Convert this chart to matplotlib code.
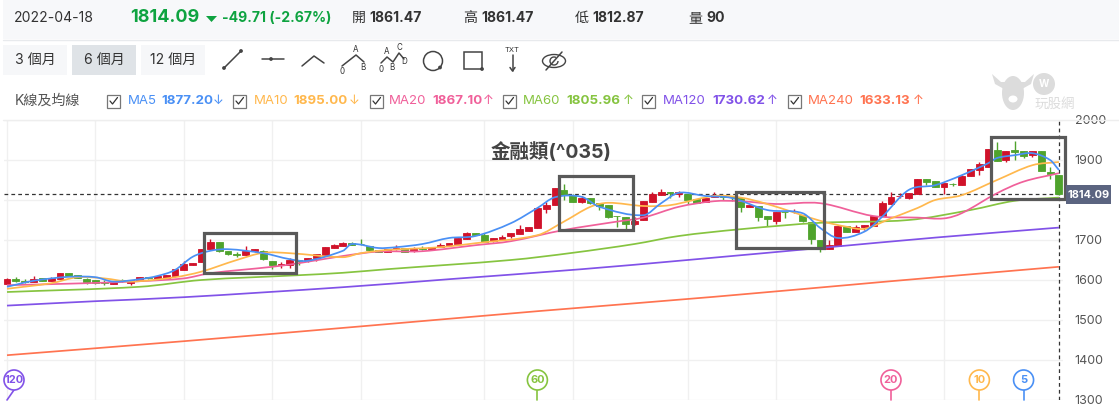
import matplotlib
matplotlib.use('Agg')
import matplotlib.pyplot as plt
from matplotlib.patches import Rectangle, Circle, Ellipse, Polygon, Arc, PathPatch
from matplotlib.path import Path

plt.rcParams['font.family'] = ['Inter', 'Noto Sans CJK TC', 'DejaVu Sans']

opens = [1590,1602,1597,1596,1604,1598,1603,1617,1612,1603,1599,1594,1591,1599,1592,1598,1607,1602,1602,1611,
         1626,1638,1644,1678,1694,1673,1666,1663,1672,1673,1647,1637,1637,1649,1649,1655,1663,1681,1686,1692,
         1691,1686,1675,1671,1677,1681,1672,1680,1678,1682,1687,1691,1703,1717,1712,1698,1702,1709,1716,1723,
         1731,1778,1787,1825,1812,1796,1804,1792,1787,1760,1757,1741,1749,1794,1812,1819,1815,1816,1802,1796,
         1807,1812,1811,1804,1783,1785,1760,1748,1770,1772,1763,1744,1699,1677,1686,1735,1721,1732,1736,1761,
         1791,1810,1804,1815,1852,1847,1833,1841,1837,1860,1875,1883,1925,1900,1924,1922,1913,1922,1869,1861.47]
highs = [1605,1607,1602,1610,1604,1607,1618,1618,1612,1604,1600,1600,1594,1602,1600,1607,1607,1609,1613,1627,
         1647,1643,1678,1702,1694,1673,1669,1685,1678,1675,1647,1644,1654,1649,1656,1664,1682,1690,1695,1695,
         1702,1686,1675,1677,1687,1681,1682,1685,1683,1692,1692,1704,1721,1717,1718,1705,1712,1717,1737,1732,
         1779,1794,1829,1840,1815,1810,1804,1792,1787,1761,1757,1757,1797,1820,1827,1819,1822,1816,1803,1804,
         1819,1812,1811,1804,1788,1785,1760,1771,1770,1778,1763,1744,1699,1700,1735,1735,1737,1737,1760,1797,
         1820,1818,1817,1852,1853,1848,1842,1842,1862,1877,1896,1927,1945,1922,1947,1923,1923,1923,1882,1861.47]
lows = [1590,1595,1592,1594,1597,1597,1603,1610,1606,1589,1590,1588,1590,1596,1587,1598,1602,1602,1602,1611,
        1626,1638,1644,1678,1671,1662,1658,1662,1671,1650,1628,1631,1630,1637,1644,1648,1663,1681,1686,1687,
        1688,1671,1670,1670,1676,1671,1671,1675,1678,1682,1687,1691,1703,1712,1696,1696,1700,1705,1716,1722,
        1731,1768,1787,1800,1794,1793,1790,1775,1755,1733,1727,1738,1749,1794,1812,1806,1808,1790,1793,1795,
        1807,1800,1797,1771,1783,1748,1735,1740,1756,1767,1745,1690,1671,1677,1686,1721,1721,1725,1736,1761,
        1791,1806,1803,1815,1837,1832,1814,1835,1837,1860,1862,1883,1898,1896,1900,1904,1908,1873,1852,1812.87]
closes = [1602,1597,1595,1603,1598,1604,1617,1611,1606,1595,1592,1593,1594,1598,1600,1607,1605,1609,1612,1627,
          1640,1642,1677,1694,1673,1666,1662,1672,1677,1652,1637,1641,1650,1647,1655,1664,1682,1688,1692,1687,
          1689,1675,1670,1677,1680,1671,1678,1678,1683,1688,1692,1704,1717,1712,1696,1705,1707,1717,1727,1732,
          1779,1787,1829,1813,1796,1806,1793,1786,1758,1759,1741,1747,1797,1814,1819,1817,1819,1801,1793,1804,
          1812,1808,1807,1783,1788,1758,1752,1771,1769,1773,1748,1702,1683,1687,1735,1721,1733,1737,1760,1792,
          1807,1811,1817,1852,1846,1832,1842,1840,1860,1877,1889,1927,1898,1922,1921,1911,1922,1873,1864,1814.09]

ma5_idx = [0,3,7,10,12,15,17,19,21,23,25,29,32,34,38,39,42,44,47,50,53,57,60,62,65,67,
           72,74,76,79,82,86,90,92,94,97,99,102,105,108,111,112,114,116,118,119]
ma5 = [1583,1598,1608,1607,1596,1602,1610,1625,1658,1673,1677,1667,1652,1648,1673,1690,1680,1682,1690,1705,1710,
       1742,1780,1807,1808,1783,1762,1792,1818,1810,1805,1775,1767,1730,1705,1721,1758,1825,1837,1862,1892,
       1905,1912,1917,1900,1875]
ma10_idx = [0,5,8,11,14,19,22,26,29,32,38,40,43,49,53,60,63,66,68,72,75,80,83,86,92,95,97,100,103,105,108,112,116,119]
ma10 = [1578,1592,1607,1604,1596,1607,1621,1650,1668,1667,1657,1667,1675,1682,1692,1712,1746,1783,1793,1785,1787,
        1810,1806,1790,1748,1733,1728,1754,1780,1800,1812,1850,1887,1895]
ma20_idx = [0,9,15,20,23,30,33,38,42,47,53,57,63,69,72,76,80,83,87,92,98,103,106,108,112,115,119]
ma20 = [1587,1592,1597,1604,1617,1633,1642,1660,1671,1672,1687,1697,1725,1746,1756,1783,1797,1797,1790,1792,
        1760,1756,1754,1767,1817,1846,1867]
ma60_idx = [0,15,22,33,38,43,57,64,71,76,83,92,102,109,114,119]
ma60 = [1570,1583,1600,1612,1618,1627,1650,1668,1690,1710,1727,1743,1750,1775,1798,1806]
ma120_idx = [0,10,20,38,50,65,77,92,105,119]
ma120 = [1536,1547,1557,1582,1602,1627,1650,1680,1706,1731]
ma240_idx = [0,20,40,60,80,100,119]
ma240 = [1412,1447,1484,1522,1558,1597,1633]

grid_idx = [0,10,20,30,40,54,64,77,87,106]
y_ticks = [2000,1900,1800,1700,1600,1500,1400,1300]
# 1800 sits behind the last price tag in the reference
y_tick_labels = ['2000','1900','','1700','1600','1500','1400','1300']
last_close = 1814.09

pin_labels = ['120','60','20','10','5']
pin_idx = [0,60,100,110,115]

c_up = '#d0122a'
c_down = '#4fa32c'
c_ma5 = '#4a90f5'
c_ma10 = '#ffb84d'
c_ma20 = '#f0609a'
c_ma60 = '#86c440'
c_ma120 = '#8152e8'
c_ma240 = '#ff7350'

W, H = 1119, 408
fig = plt.figure(figsize=(W/100, H/100), dpi=100, facecolor='white')

# chart area, 4..1063 px wide and 120..400 px down
ax = fig.add_axes([4/W, (H-400)/H, (1063-4)/W, 280/H])
ax.set_xlim(-0.34, 119.46)
ax.set_ylim(1300, 2000)
for s in ax.spines.values():
    s.set_visible(False)
ax.set_xticks(grid_idx)
ax.set_yticks(y_ticks)
ax.set_yticklabels(y_tick_labels)
ax.set_xticklabels([])
ax.yaxis.tick_right()
ax.tick_params(length=0, pad=8.5, labelsize=9, labelcolor='#555555')
ax.grid(True, color='#f0f0f0', lw=1)
ax.set_axisbelow(True)

ax.axhline(last_close, color='#333333', lw=0.9, dashes=(3, 2.5), zorder=1.5)
ax.axvline(len(opens)-1, color='#333333', lw=0.9, dashes=(3, 2.5), zorder=1.5)

for i in range(len(opens)):
    col = c_up if closes[i] >= opens[i] else c_down
    ax.vlines(i, lows[i], highs[i], color=col, lw=1, zorder=2)
    ax.bar(i, closes[i]-opens[i], bottom=opens[i], width=0.78, color=col, edgecolor=col, lw=0.6, zorder=3)

def smooth_line(xs, ys, col):
    # the chart draws its averages as curves, so pass bezier segments through the read points
    verts = [(xs[0], ys[0])]
    codes = [Path.MOVETO]
    for k in range(len(xs)-1):
        a = max(k-1, 0)
        b = min(k+2, len(xs)-1)
        dx = xs[k+1]-xs[k]
        s0 = (ys[k+1]-ys[a])/(xs[k+1]-xs[a])
        s1 = (ys[b]-ys[k])/(xs[b]-xs[k])
        verts += [(xs[k]+dx/3, ys[k]+s0*dx/3), (xs[k+1]-dx/3, ys[k+1]-s1*dx/3), (xs[k+1], ys[k+1])]
        codes += [Path.CURVE4]*3
    ax.add_patch(PathPatch(Path(verts, codes), fill=False, ec=col, lw=1.25, zorder=4))

smooth_line(ma240_idx, ma240, c_ma240)
smooth_line(ma120_idx, ma120, c_ma120)
smooth_line(ma60_idx, ma60, c_ma60)
smooth_line(ma20_idx, ma20, c_ma20)
smooth_line(ma10_idx, ma10, c_ma10)
smooth_line(ma5_idx, ma5, c_ma5)

# overlay in image pixels for the toolbar and the drawn boxes
ui = fig.add_axes([0, 0, 1, 1], facecolor='none')
ui.set_xlim(0, W)
ui.set_ylim(H, 0)
ui.axis('off')

def txt(x, y, s, size=14, color='#333333', weight='normal', ha='left', **kw):
    return ui.text(x, y, s, fontsize=size*0.72, color=color, fontweight=weight, ha=ha, va='center', **kw)

def ln(xs, ys, color='#444444', lw=1.1):
    ui.plot(xs, ys, color=color, lw=lw, solid_capstyle='round', solid_joinstyle='round')

def dot(x, y, r=1.9, color='#444444'):
    ui.add_patch(Circle((x, y), r, color=color, lw=0))

# header strip
ui.add_patch(Rectangle((3, 0), 1116, 39, color='#f7f8fa', lw=0))
ln([3, W], [39.5, 39.5], color='#e8eaed', lw=1)
ln([3, W], [119.5, 119.5], color='#eeeeee', lw=1)
txt(14, 18, '2022-04-18', 14, '#333333')
txt(130, 17, '1814.09', 18, '#0ea340', 'bold')
ui.add_patch(Polygon([(206, 16), (217, 16), (211.5, 22)], color='#0ea340', lw=0))
txt(222, 18, '-49.71 (-2.67%)', 14, '#0ea340', 'bold')
txt(352, 18, '開', 14, '#333333')
txt(369, 18, '1861.47', 14, '#333333', 'bold')
txt(463, 18, '高', 14, '#333333')
txt(481, 18, '1861.47', 14, '#333333', 'bold')
txt(575, 18, '低', 14, '#333333')
txt(592, 18, '1812.87', 14, '#333333', 'bold')
txt(688, 18, '量', 14, '#333333')
txt(706, 18, '90', 14, '#333333', 'bold')

# range buttons
for x0, x1, s, fc in [(3, 67, '3 個月', '#f6f7f9'), (72, 136, '6 個月', '#dfe3e7'), (141, 205, '12 個月', '#f6f7f9')]:
    ui.add_patch(Rectangle((x0, 45), x1-x0, 30, color=fc, lw=0))
    txt((x0+x1)/2, 60, s, 14, '#333333', ha='center')

# drawing tools
ln([224, 241], [68, 51]); dot(224, 68); dot(241, 51)
ln([262, 284], [59, 59]); dot(271, 59)
ln([302, 314, 324], [66, 56, 63])
ln([342, 356, 364], [66, 55, 62])
txt(356, 50, 'A', 8, ha='center'); txt(342, 71, '0', 8, ha='center'); txt(363, 68, 'B', 8, ha='center')
ln([381, 387, 393, 399, 404], [63, 57, 62, 53, 59])
txt(387, 52, 'A', 8, ha='center'); txt(399, 48, 'C', 8, ha='center'); txt(381, 69, '0', 8, ha='center')
txt(392, 67, 'B', 8, ha='center'); txt(404, 62, 'D', 8, ha='center')
ui.add_patch(Circle((433, 61), 9.5, fill=False, ec='#444444', lw=1.1)); dot(440, 67.5)
ui.add_patch(Rectangle((464, 52), 18, 17, fill=False, ec='#444444', lw=1.1)); dot(482, 69)
txt(512.5, 50.5, 'TXT', 7.5, ha='center')
ln([512.5, 512.5], [55, 71])
ln([510, 512.5, 515], [67.5, 71, 67.5])
ui.add_patch(Ellipse((554, 61), 23, 13, fill=False, ec='#444444', lw=1))
ui.add_patch(Arc((554, 61), 8, 8, theta1=0, theta2=300, ec='#444444', lw=1))
ln([546, 562], [70, 52])

# legend row
txt(15, 101, 'K線及均線', 14, '#555555')
legend_row = [(107, 127.5, 161, 218.5, 'MA5', '1877.20', '↓', c_ma5),
              (233, 253.5, 293.5, 354, 'MA10', '1895.00', '↓', c_ma10),
              (370, 389, 432, 488.5, 'MA20', '1867.10', '↑', c_ma20),
              (503, 523, 566, 628, 'MA60', '1805.96', '↑', c_ma60),
              (642, 663, 712, 772, 'MA120', '1730.62', '↑', c_ma120),
              (788, 807.5, 859, 918, 'MA240', '1633.13', '↑', c_ma240)]
for xb, xn, xv, xa, name, val, arrow, col in legend_row:
    ui.add_patch(Rectangle((xb, 95), 13, 12.5, fill=False, ec='#777777', lw=0.9))
    ln([xb+3, xb+5.5, xb+10.5], [101, 104, 97.5], color='#333333', lw=0.9)
    txt(xn, 101, name, 13.2, col)
    txt(xv, 101, val, 13.3, col, 'bold')
    txt(xa, 101, arrow, 13, col, ha='center')

# watermark
wm = '#dcdcdc'
ui.add_patch(Ellipse((1013, 93), 22, 34, color=wm, lw=0))
ui.add_patch(Polygon([(992, 74), (995, 84), (1004, 89), (1012, 82), (1001, 82)], color=wm, lw=0))
ui.add_patch(Polygon([(1034, 74), (1031, 84), (1022, 89), (1014, 82), (1025, 82)], color=wm, lw=0))
ui.add_patch(Circle((1044, 84), 11, color=wm, lw=0))
txt(1044, 84, 'W', 10, 'white', 'bold', ha='center')
ui.add_patch(Ellipse((1013, 99), 9, 7, color='white', lw=0))
txt(1055, 104, '玩股網', 13.5, wm, ha='center')

# title and hand drawn boxes
txt(491, 152, '金融類(^035)', 19.5, '#444444', 'bold')
for x0, y0, x1, y1 in [(204, 233, 296, 273), (559, 176, 633, 230), (736, 192, 824, 248), (991, 137, 1065, 199)]:
    ui.add_patch(Rectangle((x0, y0), x1-x0, y1-y0, fill=False, ec='#595959', lw=2.3, zorder=6))

# last price tag
ui.add_patch(Rectangle((1066, 185), 45, 19, color='#5b6480', lw=0, zorder=7))
txt(1088.5, 194.5, '1814.09', 11, 'white', 'bold', ha='center', zorder=8)

# period pins
pin_cols = [c_ma120, c_ma60, c_ma20, c_ma10, c_ma5]
for s, idx, col in zip(pin_labels, pin_idx, pin_cols):
    px = ax.transData.transform((idx, 1300))[0]
    cx = max(px, 14)
    ln([px, cx], [400, 390], color=col, lw=1.2)
    ui.add_patch(Circle((cx, 380), 10, fc='white', ec=col, lw=1.2, zorder=6))
    txt(cx, 380, s, 11, col, 'bold', ha='center', zorder=7)

fig.savefig('out.png', dpi=100)
